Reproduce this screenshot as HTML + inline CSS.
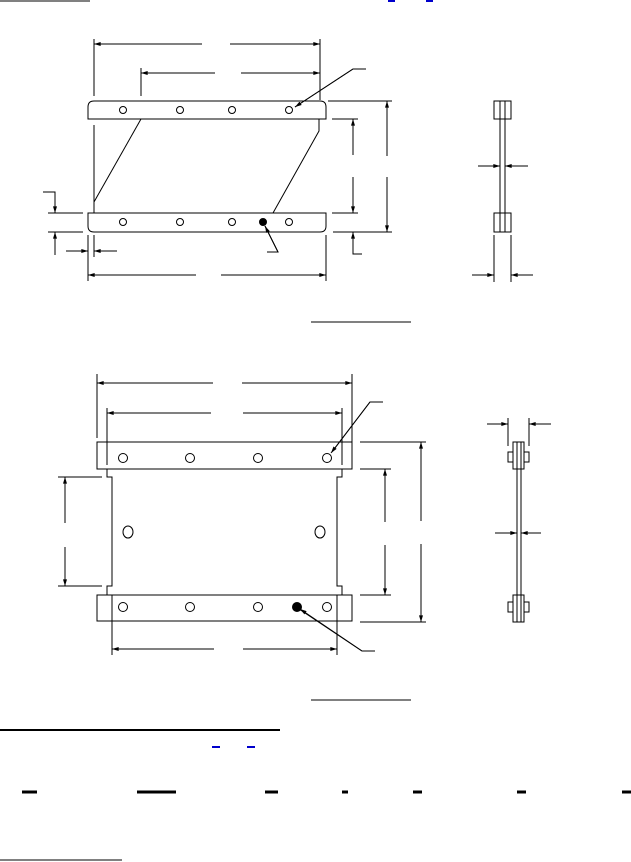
<!DOCTYPE html>
<html><head><meta charset="utf-8"><style>html,body{margin:0;padding:0;background:#fff}svg{display:block}</style></head>
<body>
<svg width="631" height="862" viewBox="0 0 631 862" xmlns="http://www.w3.org/2000/svg">
<defs>
<marker id="a" viewBox="0 0 10 6" refX="10" refY="3" markerWidth="8" markerHeight="4" orient="auto-start-reverse" markerUnits="userSpaceOnUse"><path d="M0,0L10,3L0,6z" fill="#000"/></marker>
</defs>
<g stroke="#000" stroke-width="1" fill="none">
<!-- header -->
<line x1="0" y1="1" x2="90" y2="1"/>
<line x1="388" y1="1" x2="395" y2="1" stroke="#00c" stroke-width="2"/>
<line x1="426" y1="1" x2="433" y2="1" stroke="#00c" stroke-width="2"/>

<!-- TOP FIGURE -->
<path d="M94,101 H320 Q326,101 326,107 V119 H88 V107 Q88,101 94,101 Z"/>
<path d="M88,213 H326 V226 Q326,232 320,232 H94 Q88,232 88,226 Z"/>
<g>
<circle cx="123" cy="110" r="3.5"/><circle cx="180" cy="110" r="3.5"/><circle cx="232" cy="110" r="3.5"/><circle cx="289" cy="110" r="3.5"/>
<circle cx="123" cy="222" r="3.5"/><circle cx="180" cy="222" r="3.5"/><circle cx="232" cy="222" r="3.5"/><circle cx="289" cy="222" r="3.5"/>
<circle cx="263" cy="222" r="3.5" fill="#000"/>
</g>
<line x1="94" y1="125" x2="94" y2="213"/>
<line x1="141" y1="119" x2="94" y2="202"/>
<polyline points="319,119 319,131 273,213"/>
<!-- ext lines top -->
<line x1="94" y1="39" x2="94" y2="96"/>
<line x1="320" y1="39" x2="320" y2="100"/>
<line x1="141" y1="68" x2="141" y2="96"/>
<line x1="94" y1="44" x2="202" y2="44" marker-start="url(#a)"/>
<line x1="230" y1="44" x2="320" y2="44" marker-end="url(#a)"/>
<line x1="141" y1="73" x2="215" y2="73" marker-start="url(#a)"/>
<line x1="241" y1="73" x2="320" y2="73" marker-end="url(#a)"/>
<polyline points="295,107 353,69 366,69"/>
<line x1="353" y1="69" x2="295" y2="107" marker-end="url(#a)"/>
<!-- right dims -->
<line x1="328" y1="101" x2="392" y2="101"/>
<line x1="333" y1="232" x2="392" y2="232"/>
<line x1="332" y1="119" x2="358" y2="119"/>
<line x1="332" y1="213" x2="358" y2="213"/>
<line x1="387" y1="156" x2="387" y2="101" marker-end="url(#a)"/>
<line x1="387" y1="177" x2="387" y2="232" marker-end="url(#a)"/>
<line x1="353" y1="155" x2="353" y2="119" marker-end="url(#a)"/>
<line x1="353" y1="177" x2="353" y2="213" marker-end="url(#a)"/>
<polyline points="362,254 353,254 353,232" />
<line x1="353" y1="254" x2="353" y2="232" marker-end="url(#a)"/>
<!-- left small dims -->
<line x1="48" y1="213" x2="83" y2="213"/>
<line x1="48" y1="232" x2="83" y2="232"/>
<polyline points="43,192 55,192 55,213"/>
<line x1="55" y1="192" x2="55" y2="213" marker-end="url(#a)"/>
<line x1="55" y1="255" x2="55" y2="232" marker-end="url(#a)"/>
<line x1="88" y1="235" x2="88" y2="281"/>
<line x1="94" y1="235" x2="94" y2="257"/>
<line x1="326" y1="235" x2="326" y2="281"/>
<line x1="66" y1="251" x2="88" y2="251" marker-end="url(#a)"/>
<line x1="117" y1="251" x2="94" y2="251" marker-end="url(#a)"/>
<line x1="88" y1="275" x2="196" y2="275" marker-start="url(#a)"/>
<line x1="221" y1="275" x2="326" y2="275" marker-end="url(#a)"/>
<polyline points="267,252 278,252 265,226"/>
<line x1="278" y1="252" x2="265" y2="226" marker-end="url(#a)"/>
<!-- side view top -->
<rect x="494" y="101" width="17" height="18"/>
<rect x="494" y="213" width="17" height="19"/>
<line x1="500" y1="101" x2="500" y2="232"/>
<line x1="505" y1="101" x2="505" y2="232"/>
<line x1="478" y1="166" x2="500" y2="166" marker-end="url(#a)"/>
<line x1="528" y1="166" x2="505" y2="166" marker-end="url(#a)"/>
<line x1="494" y1="235" x2="494" y2="282"/>
<line x1="511" y1="235" x2="511" y2="282"/>
<line x1="472" y1="275" x2="494" y2="275" marker-end="url(#a)"/>
<line x1="533" y1="275" x2="511" y2="275" marker-end="url(#a)"/>
<line x1="311" y1="322" x2="411" y2="322"/>

<!-- BOTTOM FIGURE -->
<rect x="97" y="442" width="255" height="27"/>
<rect x="97" y="595" width="255" height="26"/>
<polyline points="107,469 107,477 112,477 112,586 107,586 107,595"/>
<polyline points="342,469 342,477 337,477 337,586 342,586 342,595"/>
<g>
<circle cx="123" cy="458" r="4.5"/><circle cx="190" cy="458" r="4.5"/><circle cx="258" cy="458" r="4.5"/><circle cx="327" cy="458" r="4.5"/>
<circle cx="123" cy="607" r="4.5"/><circle cx="190" cy="607" r="4.5"/><circle cx="258" cy="607" r="4.5"/><circle cx="327" cy="607" r="4.5"/>
<circle cx="297" cy="607" r="4.5" fill="#000"/>
<ellipse cx="128" cy="532" rx="5" ry="6"/><ellipse cx="320" cy="532" rx="5" ry="6"/>
</g>
<line x1="97" y1="374" x2="97" y2="438"/>
<line x1="352" y1="374" x2="352" y2="442"/>
<line x1="107" y1="408" x2="107" y2="465"/>
<line x1="342" y1="408" x2="342" y2="465"/>
<line x1="97" y1="383" x2="213" y2="383" marker-start="url(#a)"/>
<line x1="242" y1="383" x2="352" y2="383" marker-end="url(#a)"/>
<line x1="107" y1="413" x2="211" y2="413" marker-start="url(#a)"/>
<line x1="243" y1="413" x2="342" y2="413" marker-end="url(#a)"/>
<polyline points="383,402 370,402 332,452"/>
<line x1="370" y1="402" x2="331" y2="453" marker-end="url(#a)"/>
<!-- left dim -->
<line x1="58" y1="477" x2="102" y2="477"/>
<line x1="58" y1="586" x2="102" y2="586"/>
<line x1="65" y1="523" x2="65" y2="477" marker-end="url(#a)"/>
<line x1="65" y1="547" x2="65" y2="586" marker-end="url(#a)"/>
<!-- right dims -->
<line x1="360" y1="442" x2="426" y2="442"/>
<line x1="360" y1="622" x2="426" y2="622"/>
<line x1="360" y1="469" x2="391" y2="469"/>
<line x1="360" y1="595" x2="391" y2="595"/>
<line x1="421" y1="521" x2="421" y2="442" marker-end="url(#a)"/>
<line x1="421" y1="544" x2="421" y2="622" marker-end="url(#a)"/>
<line x1="385" y1="522" x2="385" y2="469" marker-end="url(#a)"/>
<line x1="385" y1="545" x2="385" y2="595" marker-end="url(#a)"/>
<!-- bottom dim -->
<line x1="112" y1="595" x2="112" y2="655"/>
<line x1="337" y1="595" x2="337" y2="655"/>
<line x1="112" y1="649" x2="214" y2="649" marker-start="url(#a)"/>
<line x1="243" y1="649" x2="337" y2="649" marker-end="url(#a)"/>
<polyline points="375,651 362,651 299,609"/>
<line x1="362" y1="651" x2="300" y2="609" marker-end="url(#a)"/>
<!-- side view bottom -->
<rect x="513" y="442" width="11" height="27"/>
<rect x="513" y="595" width="11" height="27"/>
<line x1="517" y1="442" x2="517" y2="622"/>
<line x1="521" y1="442" x2="521" y2="622"/>
<rect x="508" y="452" width="5" height="10"/>
<rect x="524" y="452" width="5" height="10"/>
<rect x="508" y="602" width="5" height="10"/>
<rect x="524" y="602" width="5" height="10"/>
<line x1="508" y1="418" x2="508" y2="446"/>
<line x1="529" y1="418" x2="529" y2="446"/>
<line x1="487" y1="424" x2="508" y2="424" marker-end="url(#a)"/>
<line x1="551" y1="424" x2="529" y2="424" marker-end="url(#a)"/>
<line x1="495" y1="533" x2="517" y2="533" marker-end="url(#a)"/>
<line x1="541" y1="533" x2="521" y2="533" marker-end="url(#a)"/>
<line x1="311" y1="700" x2="411" y2="700"/>

<!-- footer -->
<line x1="0" y1="730" x2="280" y2="730" stroke-width="2"/>
<line x1="212" y1="747" x2="220" y2="747" stroke="#00c" stroke-width="2"/>
<line x1="247" y1="747" x2="255" y2="747" stroke="#00c" stroke-width="2"/>
<g stroke-width="3">
<line x1="22" y1="792" x2="37" y2="792"/>
<line x1="137" y1="792" x2="176" y2="792"/>
<line x1="265" y1="792" x2="278" y2="792"/>
<line x1="342" y1="792" x2="348" y2="792"/>
<line x1="413" y1="792" x2="422" y2="792"/>
<line x1="517" y1="792" x2="526" y2="792"/>
<line x1="622" y1="792" x2="631" y2="792"/>
</g>
<line x1="0" y1="860" x2="122" y2="860"/>
</g>
</svg>
</body></html>
